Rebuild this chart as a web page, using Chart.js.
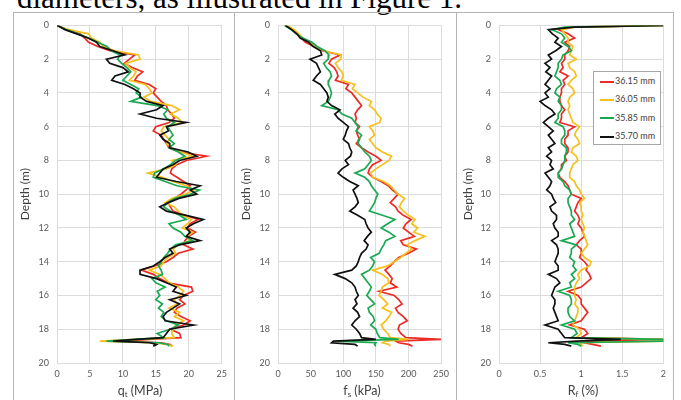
<!DOCTYPE html>
<html>
<head>
<meta charset="utf-8">
<script src="https://cdn.jsdelivr.net/npm/chart.js@4.4.1/dist/chart.umd.min.js"></script>
<style>
  html, body { margin: 0; padding: 0; background: #fff; }
  body { width: 681px; height: 400px; position: relative; overflow: hidden; font-family: Lato, "Open Sans", sans-serif; }
  .header { position: absolute; left: 17px; top: -18px; font: 31px/31px "Liberation Serif", "DejaVu Serif", serif; color: #000; white-space: nowrap; }
  .frame { position: absolute; left: 13px; top: 12px; width: 659px; height: 400px; border: 1px solid #b5b5b5; }
  .divider { position: absolute; top: 12px; width: 1px; height: 400px; background: #b5b5b5; }
  canvas { position: absolute; top: 12px; }
  .xtitle { position: absolute; top: 383px; font-size: 12.5px; color: #404040; transform: translateX(-50%); white-space: nowrap; }
  .xtitle sub { font-size: 8px; vertical-align: -2px; }
  .legend { position: absolute; left: 593px; top: 71px; width: 66px; height: 72px; border: 1px solid #a6a6a6; background: #fff; font-size: 9px; color: #404040; }
  .legend .item { position: absolute; left: 6px; height: 10px; line-height: 10px; white-space: nowrap; }
  .legend .swatch { display: inline-block; width: 14px; height: 2px; vertical-align: middle; margin-right: 1px; }
</style>
</head>
<body>
<div class="header">diameters, as illustrated in Figure 1.</div>
<div class="frame"></div>
<div class="divider" style="left:234px"></div>
<div class="divider" style="left:456px"></div>
<canvas id="qtChart" width="219" height="388" style="left:14px"></canvas>
<canvas id="fsChart" width="220" height="388" style="left:235px"></canvas>
<canvas id="rfChart" width="215" height="388" style="left:457px"></canvas>
<div class="xtitle" style="left:140px">q<sub>t</sub> (MPa)</div>
<div class="xtitle" style="left:362px">f<sub>s</sub> (kPa)</div>
<div class="xtitle" style="left:583px">R<sub>f</sub> (%)</div>
<div class="legend" id="legend"></div>
<script>
// Profundidades comunes a todas las series (m)
const depth = [0, 0.1, 0.25, 0.5, 0.75, 1, 1.25, 1.5, 1.75, 2, 2.25, 2.5, 2.75, 3, 3.25, 3.5, 3.75, 4, 4.25, 4.5, 4.75,
  5, 5.25, 5.5, 5.75, 6, 6.25, 6.5, 6.75, 7, 7.25, 7.5, 7.75, 8, 8.25, 8.5, 8.75, 9, 9.25, 9.5, 9.75,
  10, 10.25, 10.5, 10.75, 11, 11.25, 11.5, 11.75, 12, 12.25, 12.5, 12.75, 13, 13.25, 13.5, 13.75, 14, 14.25, 14.5, 14.75,
  15, 15.25, 15.5, 15.75, 16, 16.25, 16.5, 16.75, 17, 17.25, 17.5, 17.75, 18, 18.25, 18.5, 18.6, 18.7, 18.8, 18.9, 19];

const seriesNames = ['36.15 mm', '36.05 mm', '35.85 mm', '35.70 mm'];
const seriesColors = ['#ec2a26', '#f7bf1c', '#1aa953', '#111111'];

// qt (MPa)
const qt3615 = [0, 0.6, 1.5, 3.5, 4.2, 4.8, 6.2, 8, 11.8, 11, 10.2, 11.4, 13, 12.2, 11.8, 14, 15, 14.6, 15.2, 15.8, 16.6,
  16.8, 17.4, 17.8, 17, 15, 14.6, 15.8, 16.2, 16.6, 17, 18.6, 22.7, 19.6, 18.2, 17.4, 17.2, 18.2, 19.2, 20.2, 19.6,
  18.8, 17.8, 16.8, 17.2, 17.6, 19.4, 21.4, 20.2, 19.8, 21, 20, 19.4, 19.2, 20.6, 18.4, 17.6, 16.6, 14.8, 12.8, 14.6,
  15.6, 16.8, 20.4, 20.6, 19.2, 18.6, 19.4, 18.2, 17.8, 18.8, 20.2, 19.2, 17.2, 18.6, 18.8, 14, 9.5, 15.8, 17.2, 17.4];
const qt3605 = [0, 0.4, 1.8, 4.8, 5.2, 6.5, 7, 8.8, 12.4, 12.6, 10.4, 11, 12, 11.6, 11, 13.4, 14, 14.4, 13.2, 14.2, 17.4,
  18.6, 17.2, 18.4, 19, 16.2, 15.8, 16.4, 17, 16.6, 17.4, 18.8, 20.6, 17.4, 18, 16.6, 13.8, 16, 17.6, 19.6, 20.8,
  19.4, 17.4, 16.4, 17.8, 18.4, 19, 20.4, 19.8, 19, 20.6, 19.8, 20.2, 18.4, 17.6, 18, 16.8, 16.2, 15.8, 14, 15.6,
  16.4, 17, 18.4, 19.2, 18.6, 17.8, 18.2, 17, 18.6, 17.8, 19.2, 18, 17.6, 17.4, 17.8, 12, 6.5, 14.8, 16.6, 17.6];
const qt3585 = [0, 0.5, 1.4, 3.2, 4.8, 6.2, 7.6, 8.2, 9.6, 9.2, 9.8, 10.6, 11.2, 10.6, 10, 11.2, 12.4, 12, 12.8, 11.2, 15.2,
  16.8, 16.2, 16.6, 17.8, 16.8, 17.2, 17.6, 17, 17.8, 17, 18.4, 19.4, 18, 17.2, 16.2, 14.8, 14.6, 16.4, 18.2, 21.6,
  20.2, 17.8, 16.8, 16.2, 17.2, 18.6, 19.6, 17, 17.6, 18.8, 19.4, 20.6, 18, 17.2, 16.8, 16.2, 15.8, 15.4, 15.8, 16,
  14.4, 15, 16.4, 15.2, 15.6, 15, 16, 15.4, 16.2, 15.8, 16.6, 18.4, 17.2, 15.2, 16.2, 11.8, 7.5, 15.4, 16.8, 17];
const qt3570 = [0, 0.5, 1.2, 3, 4.7, 6, 6.5, 8.5, 10.3, 7.5, 8, 10, 10.8, 8.8, 8.3, 10.3, 11.6, 12.6, 12.6, 13.6, 16.1,
  15.1, 12.6, 15.1, 19.6, 16.6, 16.9, 15.6, 16.1, 17.1, 17.1, 19.9, 21.2, 18.6, 17.6, 16.1, 15.6, 15.1, 18.1, 21.7, 20.2,
  21.2, 18.5, 16.9, 15.6, 16.6, 19.6, 22.2, 20.7, 19.6, 20.2, 19.6, 21.7, 18.6, 17.1, 17.6, 16.4, 15.6, 14.6, 12.6, 12.6,
  15.1, 16.6, 18.1, 17.6, 19.6, 17.1, 18.6, 17.6, 16.6, 16.1, 16.4, 20.7, 17.1, 16.6, 16.1, 12.1, 8.5, 14.1, 15.1, 14.6];

// fs (kPa)
const fs3615 = [12, 16, 22, 28, 36, 42, 55, 68, 95, 82, 78, 86, 90, 92, 88, 108, 104, 113, 118, 123, 128,
  122, 118, 120, 118, 125, 120, 122, 125, 120, 128, 138, 150, 158, 145, 140, 138, 145, 158, 169, 175,
  184, 178, 172, 180, 184, 192, 204, 196, 192, 200, 209, 188, 192, 212, 200, 185, 178, 172, 164, 170,
  175, 172, 182, 155, 178, 185, 190, 180, 184, 192, 198, 186, 184, 188, 196, 250, 180, 185, 200, 206];
const fs3605 = [12, 18, 25, 32, 38, 47, 58, 70, 97, 96, 88, 92, 98, 100, 97, 118, 114, 122, 130, 143, 140,
  148, 152, 158, 156, 140, 145, 148, 140, 145, 150, 160, 174, 170, 160, 150, 142, 145, 162, 172, 178,
  184, 194, 189, 186, 192, 200, 210, 205, 214, 208, 225, 210, 198, 205, 196, 188, 178, 168, 145, 160,
  168, 170, 160, 158, 155, 162, 168, 160, 174, 170, 165, 158, 162, 168, 172, 200, 165, 160, 170, 172];
const fs3585 = [10, 14, 20, 28, 38, 52, 60, 72, 78, 77, 70, 74, 80, 82, 78, 77, 80, 82, 80, 77, 67,
  92, 98, 113, 118, 123, 120, 128, 124, 123, 128, 133, 140, 143, 138, 133, 118, 133, 140, 143, 148,
  153, 150, 148, 144, 140, 160, 179, 168, 158, 170, 179, 165, 162, 158, 155, 142, 148, 145, 140, 128,
  133, 138, 143, 140, 136, 142, 148, 138, 140, 146, 148, 142, 150, 152, 156, 185, 90, 150, 148, 150];
const fs3570 = [11, 15, 21, 29, 34, 47, 54, 65, 67, 49, 59, 62, 65, 59, 54, 65, 70, 75, 77, 75, 82,
  95, 87, 92, 100, 108, 105, 103, 100, 108, 110, 113, 111, 103, 108, 98, 92, 100, 110, 123, 115,
  118, 121, 123, 118, 110, 122, 133, 135, 138, 143, 137, 132, 138, 135, 128, 125, 123, 120, 113, 87,
  103, 113, 118, 120, 123, 118, 121, 115, 122, 125, 118, 113, 120, 125, 128, 150, 85, 82, 118, 122];

// Rf (%)
const rf3615 = [2, 0.9, 0.72, 0.84, 0.92, 0.8, 0.86, 0.84, 0.8, 0.8, 0.76, 0.78, 0.74, 0.84, 0.78, 0.8, 0.76, 0.76, 0.74, 0.74, 0.76,
  0.8, 0.76, 0.76, 0.74, 0.92, 0.84, 0.84, 0.8, 0.8, 0.84, 0.84, 0.8, 0.82, 0.76, 0.76, 0.72, 0.74, 0.8, 0.84, 0.86,
  0.88, 1.0, 0.96, 0.94, 0.92, 0.96, 0.98, 0.96, 1.0, 1.02, 1.04, 0.98, 0.94, 1.0, 1.0, 0.98, 1.04, 1.08, 1.06, 1.1,
  1.12, 1.06, 1.0, 0.84, 0.96, 1.0, 1.0, 1.04, 1.08, 1.04, 1.0, 0.86, 1.04, 1.08, 1.0, 2, 1.1, 1.04, 1.14, 1.24];
const rf3605 = [2, 0.92, 0.76, 0.8, 0.84, 0.84, 0.9, 0.88, 0.86, 0.94, 0.84, 0.86, 0.92, 0.94, 0.88, 0.84, 0.9, 0.92, 0.86, 0.84, 0.86,
  0.84, 0.86, 0.88, 0.9, 0.98, 0.94, 0.92, 0.96, 0.98, 0.9, 0.88, 0.94, 0.96, 0.9, 0.88, 0.86, 0.86, 0.92, 0.94, 0.98,
  1.0, 1.04, 0.98, 1.0, 1.0, 1.02, 1.0, 1.02, 1.04, 1.02, 1.04, 1.06, 1.08, 1.04, 1.0, 1.04, 1.12, 1.1, 1.0, 0.96,
  0.98, 0.94, 0.92, 0.92, 0.92, 0.94, 0.92, 0.96, 0.96, 0.94, 0.92, 0.9, 0.98, 1.0, 0.94, 2, 2, 0.98, 1.0, 1.02];
const rf3585 = [2, 0.8, 0.64, 0.76, 0.8, 0.76, 0.84, 0.88, 0.78, 0.76, 0.72, 0.72, 0.7, 0.68, 0.74, 0.76, 0.7, 0.68, 0.74, 0.72, 0.76,
  0.76, 0.72, 0.72, 0.68, 0.78, 0.8, 0.8, 0.76, 0.76, 0.82, 0.82, 0.8, 0.8, 0.78, 0.76, 0.72, 0.72, 0.78, 0.8, 0.86,
  0.88, 0.84, 0.84, 0.86, 0.88, 0.88, 0.92, 0.86, 0.88, 0.9, 0.92, 0.76, 0.94, 0.88, 0.88, 0.86, 0.92, 0.9, 0.94, 0.88,
  0.92, 0.86, 0.88, 0.72, 0.86, 0.88, 0.88, 0.84, 0.84, 0.86, 0.92, 0.76, 0.92, 0.95, 0.88, 2, 2, 0.84, 0.96, 1.0];
const rf3570 = [2, 0.92, 0.6, 0.65, 0.72, 0.68, 0.76, 0.69, 0.6, 0.64, 0.56, 0.62, 0.57, 0.64, 0.6, 0.56, 0.62, 0.56, 0.6, 0.5, 0.56,
  0.64, 0.68, 0.6, 0.54, 0.6, 0.66, 0.6, 0.64, 0.68, 0.6, 0.64, 0.58, 0.64, 0.62, 0.66, 0.56, 0.6, 0.64, 0.62, 0.58,
  0.64, 0.66, 0.69, 0.62, 0.64, 0.7, 0.7, 0.66, 0.68, 0.72, 0.72, 0.64, 0.7, 0.72, 0.72, 0.7, 0.68, 0.72, 0.72, 0.6,
  0.7, 0.74, 0.68, 0.66, 0.64, 0.68, 0.68, 0.66, 0.68, 0.7, 0.72, 0.56, 0.72, 0.76, 0.8, 1.48, 0.95, 0.6, 0.8, 0.88];

const depthTicks = [0, 2, 4, 6, 8, 10, 12, 14, 16, 18, 20];

const gridColor = '#dcdcdc';
const tickColor = '#595959';

function buildDatasets(seriesList) {
  return seriesList.map((values, i) => ({
    label: seriesNames[i],
    data: values.map((v, k) => ({ x: v, y: depth[k] })),
    borderColor: seriesColors[i],
    borderWidth: 1.7,
    showLine: true,
    pointRadius: 0,
    tension: 0,
    order: seriesList.length - i
  }));
}

function makeChart(canvasId, seriesList, xMax, xStep, yWidth, padRight) {
  const ctx = document.getElementById(canvasId).getContext('2d');
  return new Chart(ctx, {
    type: 'scatter',
    data: { datasets: buildDatasets(seriesList) },
    options: {
      responsive: false,
      animation: false,
      devicePixelRatio: 1,
      layout: { padding: { top: 8, right: padRight, left: 0, bottom: 0 } },
      plugins: { legend: { display: false }, tooltip: { enabled: false } },
      scales: {
        x: {
          type: 'linear',
          min: 0,
          max: xMax,
          ticks: {
            stepSize: xStep, color: tickColor, font: { family: 'Lato', size: 9 }, padding: 6, maxRotation: 0,
            callback: v => String(Number(v.toFixed(2)))
          },
          grid: { color: gridColor, drawTicks: false },
          border: { color: gridColor },
          afterFit: scale => { scale.height = 37; }
        },
        y: {
          type: 'linear',
          reverse: true,
          min: 0,
          max: 20,
          afterBuildTicks: scale => { scale.ticks = depthTicks.map(v => ({ value: v })); },
          ticks: { color: tickColor, font: { family: 'Lato', size: 9 }, padding: 8 },
          grid: { color: gridColor, drawTicks: false },
          border: { color: gridColor },
          title: { display: true, text: 'Depth (m)', color: '#404040', font: { family: 'Lato', size: 12 } },
          afterFit: scale => { scale.width = yWidth; }
        }
      }
    }
  });
}

makeChart('qtChart', [qt3615, qt3605, qt3585, qt3570], 25, 5, 43, 11);
makeChart('fsChart', [fs3615, fs3605, fs3585, fs3570], 250, 50, 43, 13);
makeChart('rfChart', [rf3615, rf3605, rf3585, rf3570], 2, 0.5, 42, 5);

// Leyenda dentro del tercer panel
const legendEl = document.getElementById('legend');
seriesNames.forEach((name, i) => {
  const item = document.createElement('div');
  item.className = 'item';
  item.style.top = (4 + i * 18.3) + 'px';
  item.innerHTML = '<span class="swatch" style="background:' + seriesColors[i] + '"></span>' + name;
  legendEl.appendChild(item);
});
</script>
</body>
</html>
